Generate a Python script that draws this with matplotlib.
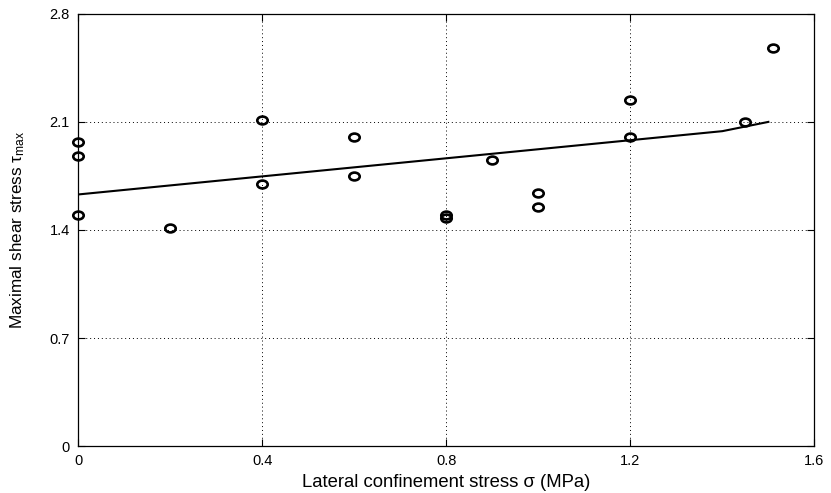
import matplotlib
matplotlib.use("Agg")
import matplotlib.pyplot as plt
from matplotlib.path import Path
from matplotlib.transforms import Affine2D

plt.rcParams["font.family"] = ["Liberation Sans", "DejaVu Sans"]
plt.rcParams["mathtext.fontset"] = "custom"
plt.rcParams["mathtext.rm"] = "Liberation Sans"
plt.rcParams["mathtext.it"] = "Liberation Sans:italic"

# measured points: lateral confinement stress vs. maximal shear stress
sigma = [0.0, 0.0, 0.0, 0.2, 0.4, 0.4, 0.6, 0.6, 0.8, 0.8,
         0.9, 1.0, 1.0, 1.2, 1.2, 1.45, 1.51]
tau_max = [1.97, 1.88, 1.50, 1.41, 2.11, 1.70, 2.00, 1.75, 1.48, 1.50,
           1.85, 1.64, 1.55, 2.24, 2.00, 2.10, 2.58]

# fitted trend line
fit_sigma = [0.0, 1.40, 1.50]
fit_tau = [1.63, 2.04, 2.10]

x_ticks = [0, 0.4, 0.8, 1.2, 1.6]
x_tick_labels = ["0", "0.4", "0.8", "1.2", "1.6"]
y_ticks = [0, 0.7, 1.4, 2.1, 2.8]
y_tick_labels = ["0", "0.7", "1.4", "2.1", "2.8"]

# slightly flattened open circle, like the stretched reference
ellipse = Path.unit_circle().transformed(Affine2D().scale(1.0, 0.75))

fig = plt.figure(figsize=(8.31, 4.93), dpi=100)
ax = fig.add_axes([0.094, 0.095, 0.886, 0.877])

ax.plot(fit_sigma, fit_tau, color="black", linewidth=1.5, zorder=3)
ax.plot(sigma, tau_max, linestyle="none", marker=ellipse, markersize=7.5,
        markerfacecolor="none", markeredgecolor="black", markeredgewidth=1.9,
        zorder=4, clip_on=False)

ax.set_xlim(0, 1.6)
ax.set_ylim(0, 2.8)
ax.set_xticks(x_ticks)
ax.set_xticklabels(x_tick_labels)
ax.set_yticks(y_ticks)
ax.set_yticklabels(y_tick_labels)
ax.tick_params(direction="in", top=True, right=True, length=5, width=0.8,
               labelsize=10.5, pad=6)
ax.grid(True, color="black", linestyle=(0, (1, 3)), linewidth=0.7)
for spine in ax.spines.values():
    spine.set_linewidth(0.9)

ax.set_xlabel("Lateral confinement stress \u03c3 (MPa)", fontsize=13.3, labelpad=4)
ax.set_ylabel("Maximal shear stress \u03c4$_{\\rm max}$", fontsize=12.3, labelpad=16)

fig.savefig("out.png", dpi=100)
